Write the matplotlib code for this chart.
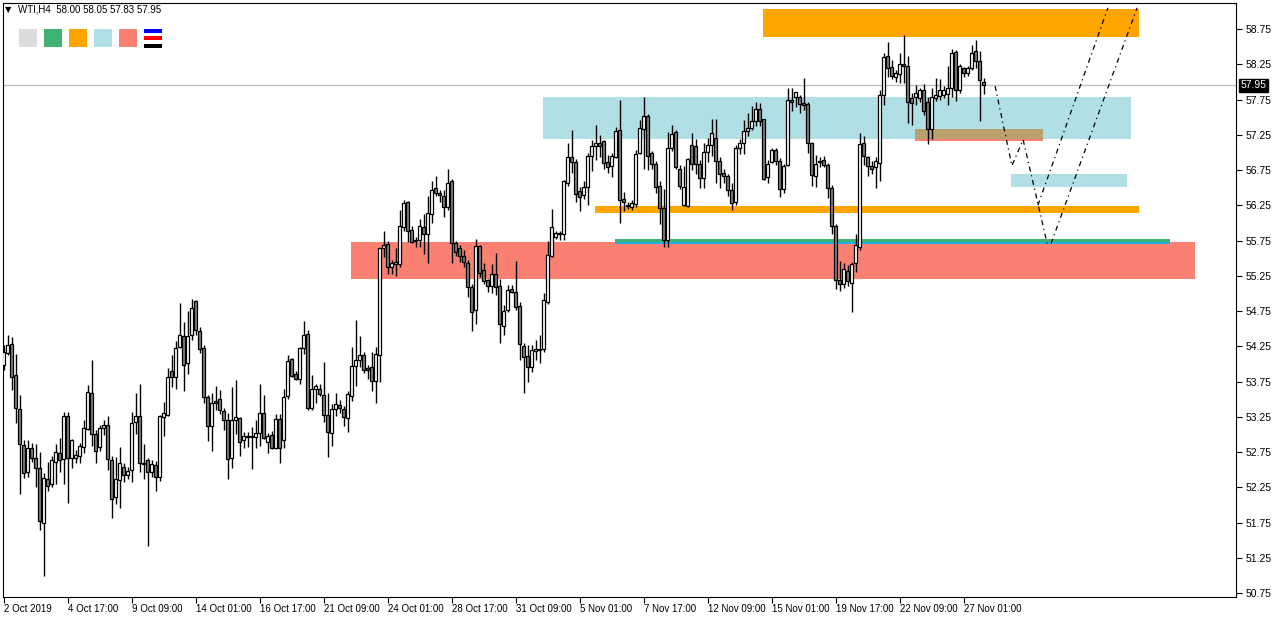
import matplotlib
matplotlib.use("Agg")
import matplotlib.pyplot as plt
from matplotlib.patches import Rectangle

plt.rcParams["font.family"] = ["Liberation Sans", "DejaVu Sans"]

# ---------------- data (WTI, H4) ----------------
opens = [53.98,54.16,54.28,53.84,53.36,52.85,52.46,52.80,52.66,52.53,51.75,52.36,52.30,52.61,52.73,52.65,53.26,52.67,52.67,52.69,
         52.82,53.07,53.58,53.01,52.82,53.09,53.14,52.64,52.11,52.35,52.54,52.43,52.49,53.17,53.26,52.58,52.63,52.46,52.57,52.40,
         53.25,53.28,53.90,53.82,54.24,54.40,54.01,54.41,54.89,54.47,54.22,53.53,53.12,53.47,53.50,53.33,53.21,52.66,53.21,53.23,
         52.92,52.98,52.96,52.96,53.02,53.30,52.89,52.99,52.80,53.22,52.92,53.54,54.07,53.86,53.79,54.23,54.42,53.38,53.65,53.65,
         53.56,53.28,53.02,53.36,53.41,53.36,53.23,53.55,53.97,54.06,54.13,53.94,53.95,53.76,54.13,55.64,55.70,55.38,55.41,55.42,
         55.94,56.29,55.90,55.76,55.76,55.94,55.84,56.13,56.49,56.42,56.38,56.22,56.59,55.71,55.64,55.53,55.43,55.09,54.77,55.67,
         55.33,55.19,55.10,55.27,55.10,54.54,54.77,55.06,55.02,54.82,54.26,54.11,53.96,54.18,54.21,54.21,54.88,55.53,55.80,55.84,
         55.84,56.56,56.93,56.87,56.45,56.39,56.51,56.95,57.09,57.14,57.16,56.87,56.80,56.93,57.32,56.34,56.26,56.23,56.27,56.99,
         57.33,57.52,56.99,56.84,56.52,56.21,55.76,57.06,57.29,56.77,56.25,56.24,57.11,57.09,56.84,56.63,57.00,57.11,57.21,56.88,
         56.71,56.66,56.47,56.29,57.06,57.13,57.30,57.35,57.45,57.61,57.47,56.65,56.86,57.03,56.88,56.48,56.82,57.74,57.78,57.78,
         57.70,57.69,57.13,56.67,56.88,56.89,56.82,56.49,55.96,55.19,55.14,55.32,55.15,55.43,55.66,57.13,56.93,56.81,56.79,56.85,
         57.81,58.37,58.21,58.07,58.11,58.25,58.23,57.77,57.79,57.77,57.89,57.72,57.33,57.77,57.80,57.81,57.83,57.91,58.43,57.88,
         58.19,58.12,58.19,58.44,58.29,58.00]
highs = [54.27,54.41,54.38,54.14,53.56,52.92,52.92,52.88,52.86,52.75,52.45,52.61,52.69,52.87,52.95,53.32,53.32,52.93,52.78,52.88,
         53.21,53.70,54.06,53.06,53.13,53.20,53.26,52.69,52.68,52.82,52.60,52.54,53.32,53.58,53.72,52.86,52.67,52.64,52.62,53.28,
         53.46,53.94,54.13,54.32,54.87,54.59,54.75,54.92,54.90,54.53,54.27,53.56,53.58,53.69,53.63,53.38,53.30,53.67,53.77,53.25,
         53.04,53.04,53.11,53.21,53.72,53.56,53.02,53.05,53.29,53.29,53.64,54.12,54.09,53.90,54.24,54.61,54.48,53.84,53.72,53.72,
         54.03,53.59,53.43,53.58,53.49,53.40,53.61,54.24,54.62,54.40,54.17,53.98,54.17,54.24,55.65,55.89,55.74,55.47,55.64,56.18,
         56.33,56.31,55.96,55.80,56.06,56.13,56.38,56.59,56.67,56.47,56.46,56.77,56.62,55.75,55.69,55.61,55.47,55.14,55.77,55.69,
         55.43,55.21,55.42,55.57,55.21,54.83,55.12,55.12,55.46,54.88,54.29,54.27,54.27,54.34,54.41,55.01,55.75,56.19,55.89,55.88,
         56.61,57.13,57.32,56.90,56.51,56.59,56.99,57.18,57.39,57.25,57.18,56.96,56.99,57.36,57.74,56.44,56.30,56.33,57.03,57.46,
         57.79,57.55,57.02,56.88,56.59,56.48,57.29,57.39,57.32,56.82,56.81,56.92,57.27,57.19,56.89,57.13,57.20,57.47,57.48,56.93,
         56.76,56.70,56.56,57.11,57.19,57.46,57.56,57.66,57.72,57.70,57.48,56.89,57.06,57.06,56.92,56.84,57.91,57.91,57.86,57.81,
         58.05,57.72,57.15,56.96,56.94,56.95,56.85,56.54,55.98,55.46,55.43,55.40,55.45,55.84,57.27,57.23,56.95,56.88,56.94,57.89,
         58.41,58.56,58.31,58.17,58.41,58.67,58.36,57.84,57.96,57.91,57.97,57.79,57.92,58.05,58.04,57.94,58.23,58.46,58.45,58.26,
         58.21,58.22,58.52,58.59,58.44,58.05]
lows = [53.91,54.13,53.63,53.16,52.16,52.38,52.40,52.61,52.25,51.65,50.99,52.19,52.26,52.30,52.47,52.30,52.03,52.53,52.60,52.59,
        52.74,53.06,52.83,52.60,52.76,52.99,52.49,51.81,52.01,51.95,52.33,52.36,52.33,53.01,52.47,52.36,51.41,52.39,52.19,52.34,
        52.97,53.26,53.67,53.65,54.22,53.62,53.85,54.34,54.41,54.16,53.45,52.90,52.77,53.35,53.29,53.06,52.37,52.53,53.01,52.70,
        52.80,52.82,52.51,52.80,52.83,52.93,52.74,52.79,52.79,52.60,52.81,53.50,53.82,53.77,53.72,54.14,53.34,53.34,53.45,53.54,
        53.17,52.68,52.84,53.26,53.30,53.12,53.04,53.48,53.69,53.96,53.87,53.78,53.61,53.45,53.75,55.51,55.28,55.28,55.24,55.38,
        55.88,55.73,55.71,55.66,55.66,55.56,55.43,56.00,56.38,56.29,56.09,56.18,55.43,55.53,55.45,55.37,54.95,54.47,54.57,55.23,
        55.14,55.02,55.00,54.98,54.30,54.41,54.74,55.01,54.77,54.06,53.58,53.75,53.89,54.06,54.01,54.17,54.85,55.52,55.77,55.76,
        55.76,56.52,56.71,56.29,56.17,56.34,56.25,56.73,56.89,56.93,56.76,56.71,56.65,56.92,56.00,56.17,56.19,56.18,56.23,56.98,
        56.76,56.75,56.76,56.43,55.99,55.66,55.66,57.02,56.76,56.48,56.24,56.23,56.75,56.70,56.49,56.49,56.87,56.95,56.56,56.50,
        56.57,56.38,56.18,56.25,56.98,56.98,57.23,57.32,57.37,57.37,56.61,56.56,56.85,56.82,56.36,56.42,56.81,57.58,57.65,57.56,
        57.60,56.99,56.52,56.51,56.79,56.79,56.35,55.84,55.06,55.04,55.07,55.10,54.74,55.31,55.62,56.82,56.66,56.69,56.50,56.59,
        57.67,58.07,58.04,58.00,57.98,57.98,57.42,57.39,57.67,57.71,57.53,57.12,57.19,57.73,57.75,57.77,57.67,57.79,57.73,57.84,
        58.07,58.08,58.17,58.19,57.44,57.83]
closes = [54.17,54.27,53.82,53.37,52.86,52.45,52.80,52.67,52.53,51.77,52.38,52.27,52.64,52.75,52.63,53.26,52.66,52.92,52.71,52.84,
          53.09,53.60,53.00,52.76,53.09,53.14,52.65,52.09,52.36,52.59,52.43,52.48,53.16,53.26,52.59,52.60,52.46,52.58,52.39,53.26,
          53.30,53.82,53.82,54.23,54.41,53.99,54.40,54.79,54.48,54.21,53.53,53.12,53.45,53.44,53.34,53.21,52.65,53.20,53.24,52.89,
          52.98,52.96,52.98,53.02,53.31,52.95,52.98,52.80,53.22,52.80,53.53,54.04,53.83,53.79,54.23,54.41,53.38,53.65,53.69,53.57,
          53.28,53.04,53.36,53.43,53.37,53.24,53.57,53.97,54.06,54.13,53.92,53.92,53.76,54.14,55.64,55.68,55.37,55.43,55.44,55.96,
          56.28,55.89,55.73,55.74,55.96,55.84,56.14,56.46,56.42,56.39,56.22,56.56,55.72,55.58,55.53,55.44,55.09,54.74,55.67,55.29,
          55.18,55.10,55.28,55.09,54.56,54.75,55.05,55.02,54.81,54.28,54.10,53.96,54.20,54.21,54.20,54.91,55.55,55.94,55.85,55.85,
          56.59,56.93,56.87,56.41,56.37,56.51,56.95,57.09,57.13,57.09,56.85,56.79,56.95,57.31,56.32,56.29,56.24,56.28,56.98,57.34,
          57.52,56.95,56.84,56.51,56.21,55.76,57.06,57.26,56.79,56.52,56.51,56.90,56.84,56.84,56.63,57.00,57.11,57.27,56.88,56.70,
          56.66,56.47,56.28,57.06,57.13,57.30,57.35,57.45,57.61,57.45,56.62,56.84,57.04,56.88,56.48,56.81,57.74,57.72,57.85,57.69,
          57.67,57.13,56.68,56.84,56.86,56.82,56.49,55.96,55.19,55.13,55.34,55.17,55.42,55.69,57.12,56.95,56.81,56.77,56.88,57.81,
          58.35,58.19,58.08,58.12,58.25,58.22,57.71,57.70,57.84,57.89,57.58,57.33,57.79,57.81,57.89,57.89,57.91,58.41,57.88,58.23,
          58.12,58.19,58.41,58.29,58.02,57.95]

tick_bars = [0, 16, 32, 48, 64, 80, 96, 112, 128, 144, 160, 176, 192, 208, 224, 240]
tick_labels = ["2 Oct 2019", "4 Oct 17:00", "9 Oct 09:00", "14 Oct 01:00", "16 Oct 17:00", "21 Oct 09:00",
               "24 Oct 01:00", "28 Oct 17:00", "31 Oct 09:00", "5 Nov 01:00", "7 Nov 17:00", "12 Nov 09:00",
               "15 Nov 01:00", "19 Nov 17:00", "22 Nov 09:00", "27 Nov 01:00"]
price_ticks = [50.75, 51.25, 51.75, 52.25, 52.75, 53.25, 53.75, 54.25, 54.75, 55.25, 55.75, 56.25,
               56.75, 57.25, 57.75, 58.25, 58.75]
last_price = 57.95
header = "WTI,H4  58.00 58.05 57.83 57.95"

# zones: start bar, end bar, low price, high price
zone_start = [86.9, 134.9, 189.9, 147.9, 152.9, 152.9, 227.9, 227.9, 251.9]
zone_end   = [297.9, 281.9, 283.9, 283.8, 291.6, 291.6, 259.9, 259.9, 280.9]
zone_low   = [55.20, 57.19, 58.64, 56.14, 55.73, 55.70, 57.16, 57.19, 56.51]
zone_high  = [55.73, 57.79, 59.03, 56.24, 55.77, 55.73, 57.33, 57.33, 56.69]
zone_color = ["#FA8072", "#B0E0E6", "#FFA500", "#FFA500", "#3CB371", "#1EB0E8", "#FA8072", "#B9A06C", "#B0E0E6"]

# projection paths (bar index, price)
path1_x = [247.9, 252.1, 254.9, 260.9, 261.9, 283.4]
path1_y = [57.94, 56.81, 57.18, 55.71, 55.71, 59.05]
path2_x = [258.6, 276.1]
path2_y = [56.25, 59.05]

# ---------------- figure ----------------
W, H = 1279, 618
fig = plt.figure(figsize=(W / 100, H / 100), dpi=100)
L, R, T, B = 3, 1236, 3, 597
ax = fig.add_axes([L / W, 1 - B / H, (R - L) / W, (B - T) / H])

n = len(opens)
xs = list(range(n))

for s, e, lo, hi, c in zip(zone_start, zone_end, zone_low, zone_high, zone_color):
    ax.add_patch(Rectangle((s, lo), e - s, hi - lo, facecolor=c, edgecolor="none", zorder=1))

ax.axhline(last_price, color="#C0C0C0", lw=1, zorder=1.5)

ax.vlines(xs, lows, highs, color="black", lw=1, zorder=2)
bottoms = [min(o, c) for o, c in zip(opens, closes)]
heights = [max(abs(c - o), 0.008) for o, c in zip(opens, closes)]
colors = ["white" if c >= o else "#808080" for o, c in zip(opens, closes)]
ax.bar(xs, heights, bottom=bottoms, width=0.55, color=colors, edgecolor="black", linewidth=0.9, zorder=3)

ax.plot(path1_x, path1_y, color="black", lw=0.9, linestyle=(0, (4, 3, 1, 3)), zorder=4)
ax.plot(path2_x, path2_y, color="black", lw=0.9, linestyle=(0, (4, 3, 1, 3)), zorder=4)

ax.set_xlim(-0.125, (R - 3.5) / 4)
ax.set_ylim(58.75 - (B - 29) / 70.5, 58.75 + (29 - T) / 70.5)

ax.yaxis.tick_right()
ax.set_yticks(price_ticks)
ax.set_yticklabels([f"{p:.2f}" for p in price_ticks])
ax.set_xticks(tick_bars)
ax.set_xticklabels(tick_labels, ha="left")
ax.tick_params(axis="x", direction="out", length=4, width=0.8, labelsize=7, colors="black", pad=1)
ax.tick_params(axis="y", direction="out", length=4, width=0.8, labelsize=7.5, colors="black", pad=3)
for sp in ax.spines.values():
    sp.set_linewidth(0.8)
    sp.set_color("black")

ax.annotate(f"{last_price:.2f}", xy=(1, last_price), xycoords=("axes fraction", "data"),
            xytext=(3, 0), textcoords="offset points", va="center", ha="left", fontsize=7.5,
            color="white", bbox=dict(boxstyle="square,pad=0.15", fc="black", ec="black"), zorder=10,
            annotation_clip=False)

fig.text(5 / W, 1 - 10 / H, "\u25BC", fontsize=6, va="center", ha="left", family="DejaVu Sans")
fig.text(18 / W, 1 - 10 / H, header, fontsize=7, va="center", ha="left")

sq_cols = ["#DCDCDC", "#3CB371", "#FFA500", "#B0E0E6", "#FA8072"]
for i, c in enumerate(sq_cols):
    x0 = 19 + 25 * i
    fig.patches.append(Rectangle((x0 / W, 1 - 47 / H), 18 / W, 18 / H, transform=fig.transFigure,
                                 facecolor=c, edgecolor="none"))
for yy, c in [(29, "blue"), (36, "red"), (44, "black")]:
    fig.patches.append(Rectangle((144 / W, 1 - (yy + 4) / H), 18 / W, 4 / H, transform=fig.transFigure,
                                 facecolor=c, edgecolor="none"))

fig.savefig("out.png", dpi=100, facecolor="white")
